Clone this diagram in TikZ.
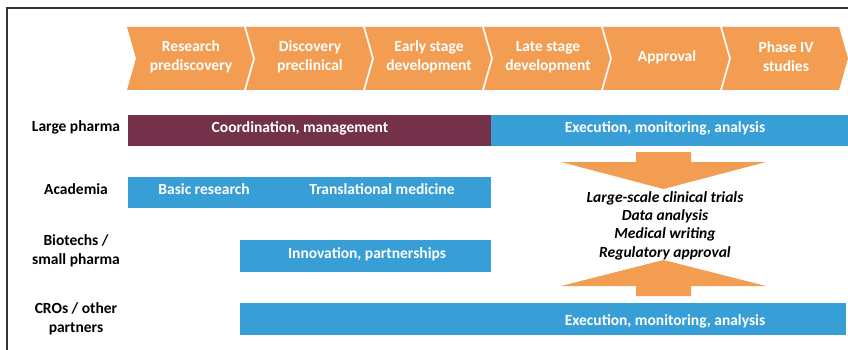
\documentclass[tikz,border=0pt]{standalone}
\usepackage{fontspec}
\setmainfont{Carlito}
\definecolor{orng}{HTML}{F29D51}
\definecolor{plum}{HTML}{73324A}
\definecolor{sky}{HTML}{379ED6}
\begin{document}
\begin{tikzpicture}[x=1pt,y=-1pt,
  every node/.style={font=\fontsize{15.5}{18.8}\selectfont\bfseries, inner sep=0pt, align=center},
  wtxt/.style={text=white},
  lbl/.style={text=black},
  itx/.style={text=black, font=\fontsize{15.5}{18.4}\selectfont\bfseries\itshape}]
\useasboundingbox (0,0) rectangle (848,350);
\fill[white] (0,0) rectangle (848,350);
% frame
\draw[line width=1.6pt, black!80] (7,350) -- (7,8) -- (848,8);
% chevrons
\foreach \i/\t in {0/{Research\\prediscovery},1/{Discovery\\preclinical},2/{Early stage\\development},3/{Late stage\\development},4/Approval,5/{Phase IV\\studies}}{
  \pgfmathsetmacro{\xo}{127+119*\i}
  \fill[orng] (\xo,27) -- (\xo+117,27) -- (\xo+126,58.5) -- (\xo+117,90) -- (\xo,90) -- (\xo+9,58.5) -- cycle;
  \node[wtxt] (ch\i) at (\xo+64,57) {\t};
}
% bars
\fill[plum] (128,115) rectangle (491,146);
\fill[sky] (491,115) rectangle (848,146);
\fill[sky] (128,177) rectangle (491,208);
\fill[sky] (240,240) rectangle (491,272);
\fill[sky] (240,303) rectangle (846,335);
\node[wtxt] (coord) at (300,128) {Coordination, management};
\node[wtxt] (exec1) at (665,128) {Execution, monitoring, analysis};
\node[wtxt] (basic) at (204,189) {Basic research};
\node[wtxt] (trans) at (382,189) {Translational medicine};
\node[wtxt] (innov) at (367,254) {Innovation, partnerships};
\node[wtxt] (exec2) at (665,321) {Execution, monitoring, analysis};
% row labels
\node[lbl] (lp) at (76,127) {Large pharma};
\node[lbl] (ac) at (76,189) {Academia};
\node[lbl] (bt) at (76,251) {Biotechs /\\small pharma};
\node[lbl] (cro) at (76,318.5) {CROs / other\\partners};
% arrows
\fill[orng] (636,152) -- (691,152) -- (691,162) -- (766,162) -- (663.5,189) -- (561,162) -- (636,162) -- cycle;
\fill[orng] (636,296) -- (691,296) -- (691,286) -- (766,286) -- (663.5,260) -- (561,286) -- (636,286) -- cycle;
\node[itx] (tasks) at (665,225.5) {Large-scale clinical trials\\Data analysis\\Medical writing\\Regulatory approval};
\end{tikzpicture}
\end{document}
